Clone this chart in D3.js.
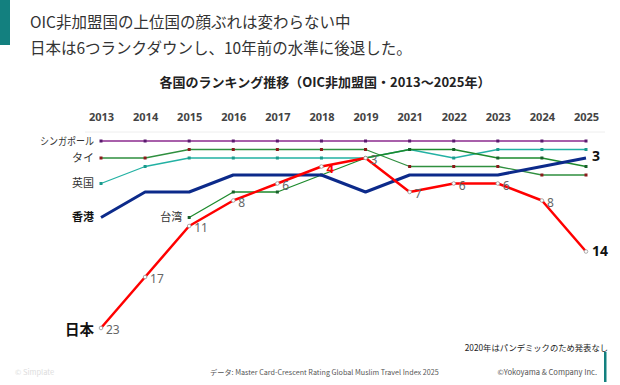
<!DOCTYPE html>
<html>
<head>
<meta charset="utf-8">
<script src="https://cdn.jsdelivr.net/npm/d3@7"></script>
<style>
  body { margin: 0; background: #fff; }
  svg { display: block; font-family: "Noto Sans CJK JP", "Noto Sans", sans-serif; }
</style>
</head>
<body>
<div id="chart"></div>
<script>
// data: ranking among non-OIC destinations (2020 not published)
const years = ["2013", "2014", "2015", "2016", "2017", "2018", "2019", "2021", "2022", "2023", "2024", "2025"];
const singapore = [1, 1, 1, 1, 1, 1, 1, 1, 1, 1, 1, 1];
const thailand  = [3, 3, 2, 2, 2, 2, 2, 4, 4, 4, 5, 5];
const uk        = [6, 4, 3, 3, 3, 3, 3, 2, 3, 2, 2, 2];
const hongkong  = [10, 7, 7, 5, 5, 5, 7, 5, 5, 5, 4, 3];
const taiwan    = [null, null, 10, 7, 7, 5, 3, 2, 2, 3, 3, 4];
const japan     = [23, 17, 11, 8, 6, 4, 3, 7, 6, 6, 8, 14];

const width = 620, height = 385;

const svg = d3.select("#chart")
  .append("svg")
  .attr("width", width)
  .attr("height", height);

// titles
svg.append("rect").attr("x", 0).attr("y", 0).attr("width", 10).attr("height", 45).attr("fill", "#13807f");
svg.append("text").attr("x", 30).attr("y", 28).attr("font-size", 15.5).attr("fill", "#333")
  .text("OIC非加盟国の上位国の顔ぶれは変わらない中");
svg.append("text").attr("x", 30).attr("y", 54).attr("font-size", 15.5).attr("fill", "#333")
  .text("日本は6つランクダウンし、10年前の水準に後退した。");

svg.append("text").attr("x", 325).attr("y", 87).attr("text-anchor", "middle")
  .attr("font-size", 13).attr("font-weight", "bold").attr("fill", "#222")
  .text("各国のランキング推移（OIC非加盟国・2013～2025年）");

// scales
const x = d3.scalePoint().domain(years).range([101, 586]);
const y = d3.scaleLinear().domain([1, 23]).range([141, 328]);

// year axis on top
const xAxis = svg.append("g")
  .attr("transform", "translate(0,121)")
  .call(d3.axisTop(x).tickSize(0).tickPadding(0));
xAxis.select(".domain").remove();
xAxis.selectAll("text")
  .attr("font-size", 11).attr("font-weight", "bold").attr("fill", "#444")
  .attr("font-family", "'Noto Sans', sans-serif");

svg.append("line").attr("x1", 85).attr("x2", 605).attr("y1", 132).attr("y2", 132)
  .attr("stroke", "#eee").attr("stroke-width", 1);

const line = d3.line()
  .defined(d => d != null)
  .x((d, i) => x(years[i]))
  .y(d => y(d));

const series = [
  { name: "singapore", values: singapore, color: "#8b2a8e", width: 1.3, marker: "#5a1a6e" },
  { name: "uk",        values: uk,        color: "#22b1a3", width: 1.3, marker: "#1a9a8c" },
  { name: "thailand",  values: thailand,  color: "#2f8f3f", width: 1.3, marker: "#8a1a1a" },
  { name: "taiwan",    values: taiwan,    color: "#1d8a2c", width: 1.3, marker: "#17602a" },
  { name: "hongkong",  values: hongkong,  color: "#0c2a8a", width: 3,   marker: null },
  { name: "japan",     values: japan,     color: "#ff0000", width: 2.5, marker: null }
];

series.forEach(s => {
  svg.append("path")
    .datum(s.values)
    .attr("fill", "none")
    .attr("stroke", s.color)
    .attr("stroke-width", s.width)
    .attr("stroke-linejoin", "round")
    .attr("d", line);
  if (s.marker) {
    svg.selectAll(".m-" + s.name)
      .data(s.values.map((v, i) => ({ v, i })).filter(d => d.v != null))
      .enter()
      .append("rect")
      .attr("class", "m-" + s.name)
      .attr("x", d => x(years[d.i]) - 1.5)
      .attr("y", d => y(d.v) - 1.5)
      .attr("width", 3).attr("height", 3)
      .attr("fill", s.marker);
  }
});

// japan markers and rank labels
const jp = japan.map((v, i) => ({ v, i }));
svg.selectAll(".jp-dot")
  .data(jp)
  .enter()
  .append("circle")
  .attr("cx", d => x(years[d.i]))
  .attr("cy", d => y(d.v))
  .attr("r", 1.8)
  .attr("fill", "#fff")
  .attr("stroke", "#999")
  .attr("stroke-width", 0.8);

svg.selectAll(".jp-lab")
  .data(jp.slice(0, jp.length - 1))
  .enter()
  .append("text")
  .attr("x", d => x(years[d.i]) + 5)
  .attr("y", d => y(d.v) + 3)
  .attr("dominant-baseline", "middle")
  .attr("font-size", d => d.v === 4 ? 13 : 12)
  .attr("font-family", "'Noto Sans', sans-serif")
  .attr("fill", d => d.v === 4 ? "#ff0000" : "#666")
  .attr("font-weight", d => d.v === 4 ? "bold" : "normal")
  .text(d => d.v);

const last = years[years.length - 1];
svg.append("text").attr("x", x(last) + 6).attr("y", y(japan[japan.length - 1]) + 1)
  .attr("dominant-baseline", "middle").attr("font-size", 14).attr("font-weight", "bold")
  .attr("font-family", "'Noto Sans', sans-serif").attr("fill", "#111")
  .text(japan[japan.length - 1]);
svg.append("text").attr("x", x(last) + 6).attr("y", y(hongkong[hongkong.length - 1]) - 1)
  .attr("dominant-baseline", "middle").attr("font-size", 14).attr("font-weight", "bold")
  .attr("font-family", "'Noto Sans', sans-serif").attr("fill", "#111")
  .text(hongkong[hongkong.length - 1]);

// country labels
const names = [
  { t: "シンガポール", v: singapore[0], i: 0, size: 10.5, bold: false, len: 54 },
  { t: "タイ", v: thailand[0], i: 0, size: 11, bold: false },
  { t: "英国", v: uk[0], i: 0, size: 11, bold: false },
  { t: "香港", v: hongkong[0], i: 0, size: 11, bold: true },
  { t: "台湾", v: taiwan[2], i: 2, size: 11, bold: false },
  { t: "日本", v: japan[0], i: 0, size: 14.5, bold: true }
];
const nameText = svg.selectAll(".name")
  .data(names)
  .enter()
  .append("text")
  .attr("x", d => x(years[d.i]) - 7)
  .attr("y", d => y(d.v) + (d.v === 23 ? 3 : 1))
  .attr("text-anchor", "end")
  .attr("dominant-baseline", "middle")
  .attr("font-size", d => d.size)
  .attr("font-weight", d => d.bold ? "bold" : "normal")
  .attr("fill", d => d.bold ? "#111" : "#333")
  .text(d => d.t);
nameText.filter(d => d.len)
  .attr("textLength", d => d.len)
  .attr("lengthAdjust", "spacingAndGlyphs");

// notes
svg.append("text").attr("x", 608).attr("y", 351).attr("text-anchor", "end")
  .attr("font-size", 8.3).attr("fill", "#222").text("2020年はパンデミックのため発表なし");
svg.append("text").attr("x", 15).attr("y", 375).attr("font-size", 7.5).attr("fill", "#ddd").text("© Simplate");
svg.append("text").attr("x", 210).attr("y", 375).attr("font-size", 7.2).attr("fill", "#555")
  .text("データ: Master Card-Crescent Rating Global Muslim Travel Index 2025");
svg.append("text").attr("x", 597).attr("y", 375).attr("text-anchor", "end").attr("font-size", 7.6).attr("fill", "#555")
  .text("©Yokoyama & Company Inc.");
svg.append("rect").attr("x", 604).attr("y", 352).attr("width", 2.5).attr("height", 30).attr("fill", "#13807f");
</script>
</body>
</html>
